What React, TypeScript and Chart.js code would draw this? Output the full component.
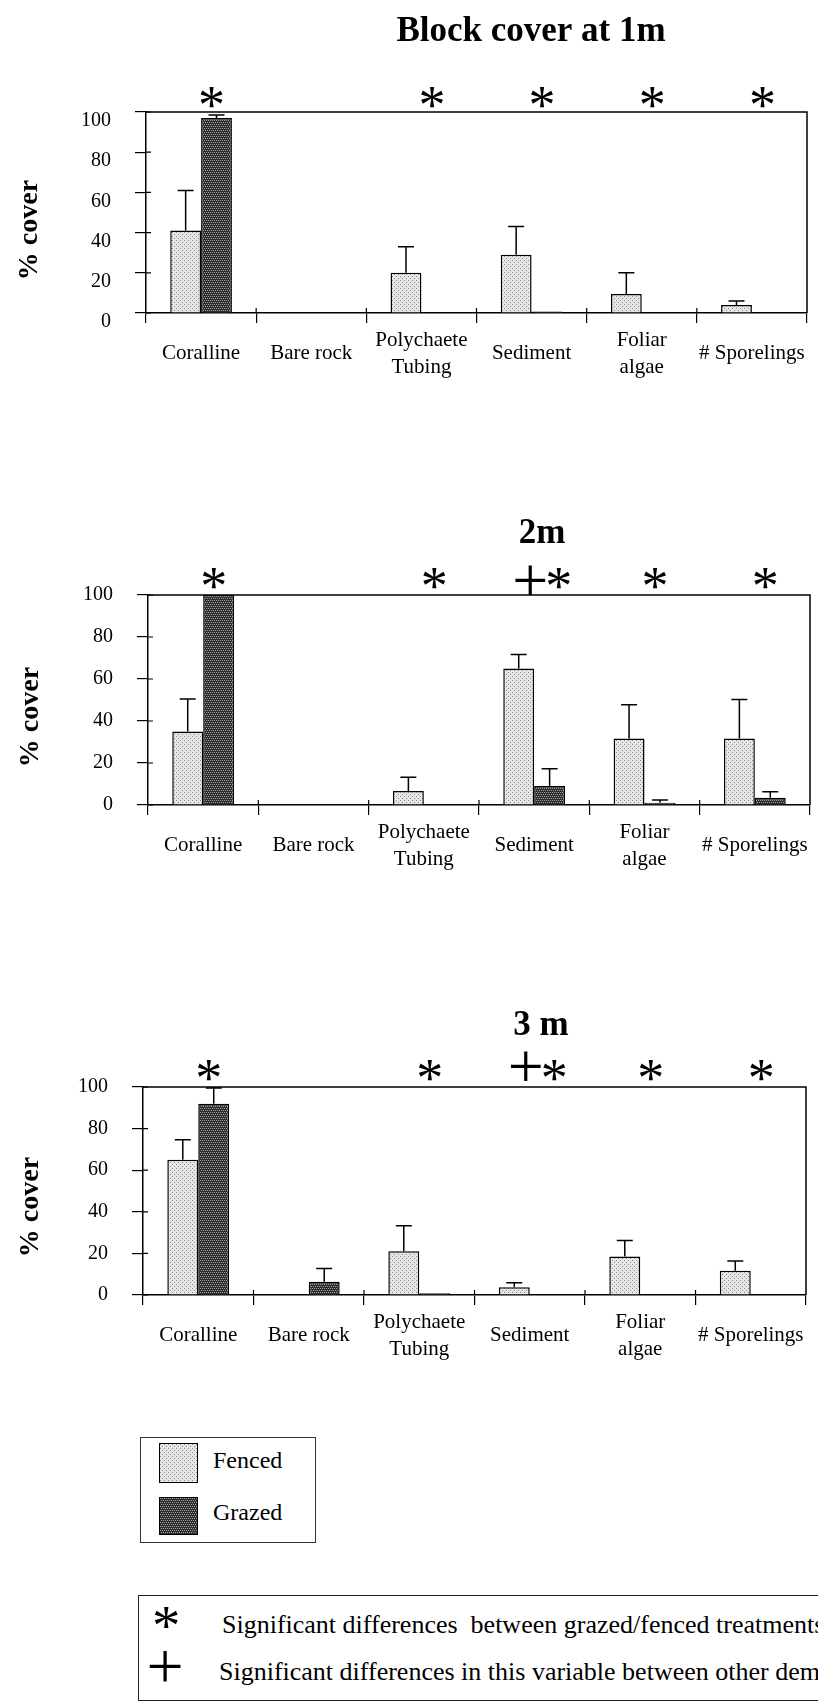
import React, { useEffect, useRef } from "react";
import { Chart, registerables } from "chart.js";

Chart.register(...registerables);

const SERIF = '"Liberation Serif", "Times New Roman", serif';

// ---- data -------------------------------------------------------------
const categories: (string | string[])[] = [
  "Coralline",
  "Bare rock",
  ["Polychaete", "Tubing"],
  "Sediment",
  ["Foliar", "algae"],
  "# Sporelings",
];
const yTickValues = [0, 20, 40, 60, 80, 100];
const seriesNames = ["Fenced", "Grazed"];

// Block cover at 1 m (mean % cover, upper error)
const fenced1m = [41, 0, 20, 29, 9.5, 4];
const fencedErr1m = [20, 0, 13, 14, 10.5, 2];
const grazed1m = [97, 0, 0, 0.8, 0, 0];
const grazedErr1m = [1.5, 0, 0, 0, 0, 0];
const signif1m = ["*", "", "*", "*", "*", "*"];

// 2 m
const fenced2m = [35, 0, 6.7, 65, 31.7, 31.7];
const fencedErr2m = [15.5, 0, 6.5, 6.7, 16, 18.5];
const grazed2m = [100, 0, 0, 9, 1.1, 3.5];
const grazedErr2m = [0, 0, 0, 8.3, 1.3, 2.8];
const signif2m = ["*", "", "*", "+*", "*", "*"];

// 3 m
const fenced3m = [65, 0, 21, 3.7, 18.5, 11.6];
const fencedErr3m = [9.6, 0, 12.3, 2.2, 7.7, 4.8];
const grazed3m = [92, 6.4, 0.8, 0, 0, 0];
const grazedErr3m = [7.5, 6.4, 0, 0, 0, 0];
const signif3m = ["*", "", "*", "+*", "*", "*"];

const keyStar = "Significant differences  between grazed/fenced treatments";
const keyPlus = "Significant differences in this variable between other dema";

// ---- fill patterns ----------------------------------------------------
function makeTile(bg: string, fg: string, dots: [number, number][]) {
  const c = document.createElement("canvas");
  c.width = 4;
  c.height = 4;
  const g = c.getContext("2d")!;
  g.fillStyle = bg;
  g.fillRect(0, 0, 4, 4);
  g.fillStyle = fg;
  dots.forEach(([x, y]) => g.fillRect(x, y, 1, 1));
  return c;
}
const fencedTile = makeTile("#e6e6e6", "#8a8a8a", [[0, 0], [2, 2]]);
const grazedTile = makeTile("#2c2c2c", "#a0a0a0", [[0, 0], [2, 0], [1, 2], [3, 2]]);
const fencedFill = fencedTile.getContext("2d")!.createPattern(fencedTile, "repeat")!;
const grazedFill = grazedTile.getContext("2d")!.createPattern(grazedTile, "repeat")!;

// ---- glyph helper: draws a character centred on (cx, cy) at a given ink height
function drawGlyph(
  ctx: CanvasRenderingContext2D,
  ch: string,
  cx: number,
  cy: number,
  h: number
) {
  ctx.save();
  ctx.font = `100px ${SERIF}`;
  const m = ctx.measureText(ch);
  const inkH = m.actualBoundingBoxAscent + m.actualBoundingBoxDescent || 50;
  const size = (100 * h) / inkH;
  ctx.font = `${size}px ${SERIF}`;
  const m2 = ctx.measureText(ch);
  ctx.textAlign = "left";
  ctx.textBaseline = "alphabetic";
  ctx.fillStyle = "#000";
  const x = cx - (m2.actualBoundingBoxRight - m2.actualBoundingBoxLeft) / 2;
  const y = cy - (m2.actualBoundingBoxDescent - m2.actualBoundingBoxAscent) / 2;
  ctx.fillText(ch, x, y);
  ctx.restore();
}

// ---- panels -----------------------------------------------------------
interface Panel {
  title: string;
  fenced: number[];
  fencedErr: number[];
  grazed: number[];
  grazedErr: number[];
  signif: string[];
  top: number;
  height: number;
  area: { l: number; r: number; t: number; b: number };
  titleX: number;
  titleY: number;
  yTitleX: number;
  yTitleY: number;
  markY: number;
  plusY: number;
  yLabelShift: number;
}

const WIDTH = 818;

const panels: Panel[] = [
  {
    title: "Block cover at 1m",
    fenced: fenced1m,
    fencedErr: fencedErr1m,
    grazed: grazed1m,
    grazedErr: grazedErr1m,
    signif: signif1m,
    top: 0,
    height: 400,
    area: { l: 146, r: 807, t: 112, b: 313 },
    titleX: 531,
    titleY: 41,
    yTitleX: 30,
    yTitleY: 230,
    markY: 97,
    plusY: 97,
    yLabelShift: 9,
  },
  {
    title: "2m",
    fenced: fenced2m,
    fencedErr: fencedErr2m,
    grazed: grazed2m,
    grazedErr: grazedErr2m,
    signif: signif2m,
    top: 480,
    height: 420,
    area: { l: 148, r: 810, t: 115, b: 325 },
    titleX: 542,
    titleY: 63,
    yTitleX: 31,
    yTitleY: 237,
    markY: 98,
    plusY: 100,
    yLabelShift: 0,
  },
  {
    title: "3 m",
    fenced: fenced3m,
    fencedErr: fencedErr3m,
    grazed: grazed3m,
    grazedErr: grazedErr3m,
    signif: signif3m,
    top: 980,
    height: 420,
    area: { l: 143, r: 806, t: 107, b: 315 },
    titleX: 541,
    titleY: 55,
    yTitleX: 31,
    yTitleY: 227,
    markY: 90,
    plusY: 86,
    yLabelShift: 0,
  },
];

function makeOverlay(p: Panel) {
  return {
    id: "panelOverlay",
    afterDraw(chart: any) {
      const ctx: CanvasRenderingContext2D = chart.ctx;
      const { left, right, top, bottom } = chart.chartArea;
      const xs = chart.scales.x;
      const ys = chart.scales.y;
      ctx.save();
      ctx.strokeStyle = "#000";

      // frame: top and right edges
      ctx.lineWidth = 1.5;
      ctx.beginPath();
      ctx.moveTo(left, top);
      ctx.lineTo(right, top);
      ctx.lineTo(right, bottom);
      ctx.stroke();

      // short inner parts of the tick marks
      ctx.lineWidth = 1.2;
      ctx.beginPath();
      yTickValues.forEach((v) => {
        const y = ys.getPixelForValue(v);
        ctx.moveTo(left, y);
        ctx.lineTo(left + 5, y);
      });
      const n = categories.length;
      for (let i = 1; i < n; i++) {
        const x = left + ((right - left) * i) / n;
        ctx.moveTo(x, bottom);
        ctx.lineTo(x, bottom - 5);
      }
      ctx.stroke();

      // upper error bars
      const sets: [number[], number[]][] = [
        [p.fenced, p.fencedErr],
        [p.grazed, p.grazedErr],
      ];
      ctx.lineWidth = 1.5;
      sets.forEach(([vals, err], di) => {
        const meta = chart.getDatasetMeta(di);
        meta.data.forEach((bar: any, j: number) => {
          if (!err[j]) return;
          const x = bar.x;
          const y0 = ys.getPixelForValue(vals[j]);
          const y1 = ys.getPixelForValue(vals[j] + err[j]);
          ctx.beginPath();
          ctx.moveTo(x, y0);
          ctx.lineTo(x, y1);
          ctx.moveTo(x - 8, y1);
          ctx.lineTo(x + 8, y1);
          ctx.stroke();
        });
      });

      // title
      ctx.fillStyle = "#000";
      ctx.font = `bold 35px ${SERIF}`;
      ctx.textAlign = "center";
      ctx.textBaseline = "alphabetic";
      ctx.fillText(p.title, p.titleX, p.titleY);

      // significance marks above each category
      p.signif.forEach((m, j) => {
        const cx = xs.getPixelForValue(j);
        if (m === "*") {
          drawGlyph(ctx, "*", cx - 3, p.markY, 20);
        } else if (m === "+*") {
          drawGlyph(ctx, "+", cx - 22, p.plusY, 30);
          drawGlyph(ctx, "*", cx + 11, p.markY, 20);
        }
      });

      // y-axis title
      ctx.translate(p.yTitleX, p.yTitleY);
      ctx.rotate(-Math.PI / 2);
      ctx.font = `bold 28px ${SERIF}`;
      ctx.textAlign = "center";
      ctx.textBaseline = "middle";
      ctx.fillText("% cover", 0, 0);
      ctx.restore();
    },
  };
}

function buildConfig(p: Panel): any {
  return {
    type: "bar",
    data: {
      labels: categories,
      datasets: [
        {
          label: seriesNames[0],
          data: p.fenced,
          backgroundColor: fencedFill,
          borderColor: "#000",
          borderWidth: 1.5,
          barPercentage: 1,
          categoryPercentage: 0.56,
        },
        {
          label: seriesNames[1],
          data: p.grazed,
          backgroundColor: grazedFill,
          borderColor: "#000",
          borderWidth: 1.5,
          barPercentage: 1,
          categoryPercentage: 0.56,
        },
      ],
    },
    options: {
      animation: false,
      responsive: false,
      maintainAspectRatio: false,
      devicePixelRatio: 1,
      events: [],
      layout: {
        padding: { top: p.area.t, right: WIDTH - p.area.r, left: 0, bottom: 0 },
      },
      plugins: {
        legend: { display: false },
        title: { display: false },
        tooltip: { enabled: false },
      },
      scales: {
        x: {
          grid: {
            offset: true,
            drawOnChartArea: false,
            drawTicks: true,
            tickLength: 10,
            color: "#000",
            lineWidth: 1.2,
          },
          border: { color: "#000", width: 1.5 },
          ticks: {
            font: { family: SERIF, size: 21, lineHeight: 1.3 },
            color: "#000",
            padding: 17,
            maxRotation: 0,
            minRotation: 0,
            autoSkip: false,
            crossAlign: "center",
          },
          afterFit: (s: any) => {
            s.height = p.height - p.area.b;
            s.paddingLeft = 0;
            s.paddingRight = 0;
          },
        },
        y: {
          min: 0,
          max: 100,
          afterBuildTicks: (s: any) => {
            s.ticks = yTickValues.map((v) => ({ value: v }));
          },
          grid: {
            drawOnChartArea: false,
            drawTicks: true,
            tickLength: 11,
            color: "#000",
            lineWidth: 1.2,
          },
          border: { color: "#000", width: 1.5 },
          ticks: {
            font: { family: SERIF, size: 20 },
            color: "#000",
            padding: 24,
            labelOffset: p.yLabelShift,
          },
          afterFit: (s: any) => {
            s.width = p.area.l;
            s.paddingTop = 0;
            s.paddingBottom = 0;
          },
        },
      },
    },
    plugins: [makeOverlay(p)],
  };
}

function PanelChart({ panel }: { panel: Panel }) {
  const ref = useRef<HTMLCanvasElement>(null);
  useEffect(() => {
    const chart = new Chart(ref.current!, buildConfig(panel));
    return () => chart.destroy();
  }, [panel]);
  return (
    <canvas
      ref={ref}
      width={WIDTH}
      height={panel.height}
      style={{
        position: "absolute",
        left: 0,
        top: panel.top,
        width: WIDTH,
        height: panel.height,
      }}
    />
  );
}

function Symbol({ ch, cx, cy, h }: { ch: string; cx: number; cy: number; h: number }) {
  const ref = useRef<HTMLCanvasElement>(null);
  useEffect(() => {
    const ctx = ref.current!.getContext("2d")!;
    ctx.clearRect(0, 0, 50, 50);
    drawGlyph(ctx, ch, 25, 25, h);
  }, [ch, h]);
  return (
    <canvas
      ref={ref}
      width={50}
      height={50}
      style={{ position: "absolute", left: cx - 25, top: cy - 25, width: 50, height: 50 }}
    />
  );
}

function Label({ text, x, cy, size }: { text: string; x: number; cy: number; size: number }) {
  return (
    <div
      style={{
        position: "absolute",
        left: x,
        top: cy - 16,
        height: 32,
        lineHeight: "32px",
        fontSize: size,
        whiteSpace: "pre",
        color: "#000",
      }}
    >
      {text}
    </div>
  );
}

export default function App() {
  const fencedUrl = fencedTile.toDataURL();
  const grazedUrl = grazedTile.toDataURL();
  return (
    <div
      style={{
        position: "absolute",
        left: 0,
        top: 0,
        width: WIDTH,
        height: 1703,
        overflow: "hidden",
        background: "#fff",
        fontFamily: SERIF,
      }}
    >
      {panels.map((p) => (
        <PanelChart key={p.title} panel={p} />
      ))}

      {/* treatment key */}
      <div
        style={{
          position: "absolute",
          left: 140,
          top: 1437,
          width: 176,
          height: 106,
          border: "1.5px solid #333",
          boxSizing: "border-box",
        }}
      />
      <div
        style={{
          position: "absolute",
          left: 159,
          top: 1443,
          width: 39,
          height: 40,
          border: "1.5px solid #000",
          boxSizing: "border-box",
          backgroundImage: `url(${fencedUrl})`,
        }}
      />
      <div
        style={{
          position: "absolute",
          left: 159,
          top: 1497,
          width: 39,
          height: 38,
          border: "1.5px solid #000",
          boxSizing: "border-box",
          backgroundImage: `url(${grazedUrl})`,
        }}
      />
      <Label text={seriesNames[0]} x={213} cy={1460} size={24} />
      <Label text={seriesNames[1]} x={213} cy={1512} size={24} />

      {/* significance key */}
      <div
        style={{
          position: "absolute",
          left: 138,
          top: 1595,
          width: 720,
          height: 106,
          border: "1.5px solid #222",
          boxSizing: "border-box",
        }}
      />
      <Symbol ch="*" cx={166} cy={1618} h={21} />
      <Symbol ch="+" cx={165} cy={1666} h={31} />
      <Label text={keyStar} x={222} cy={1625} size={26} />
      <Label text={keyPlus} x={219} cy={1672} size={26} />
    </div>
  );
}
